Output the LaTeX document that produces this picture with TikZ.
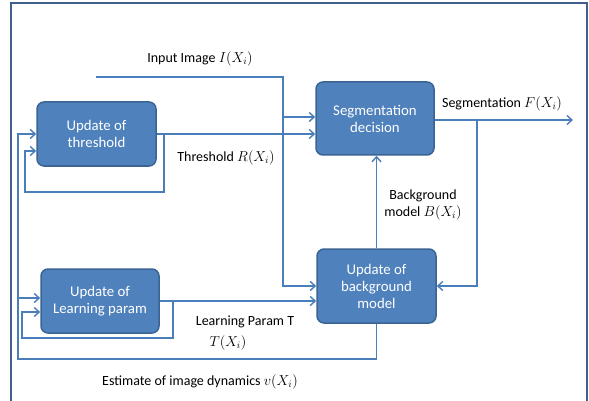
\documentclass[tikz,border=0pt]{standalone}
\usepackage{fontspec}
\setmainfont{Carlito}
\usetikzlibrary{arrows.meta}
\definecolor{boxfill}{HTML}{4F81BD}
\definecolor{boxline}{HTML}{3A6494}
\definecolor{wire}{HTML}{4A7EBB}
\definecolor{frame}{HTML}{41618A}
\tikzset{
  blk/.style={draw=boxline, line width=1.5pt, fill=boxfill, rounded corners=7pt,
    text=white, align=center, inner sep=0pt, font=\fontsize{14.8}{17}\selectfont},
  wl/.style={draw=wire, line width=1.6pt},
  wa/.style={wl, -{Straight Barb[length=5pt, width=9pt, line width=1.4pt]}},
  lbl/.style={font=\fontsize{14}{16.5}\selectfont, text=black, inner sep=0pt, align=center}
}
\begin{document}
\begin{tikzpicture}[x=1pt, y=-1pt]
\useasboundingbox (0,0) rectangle (589,401);
\draw[frame, line width=2.2pt] (11,401) -- (11,3) -- (587,3) -- (587,401);

\node[blk, minimum width=119pt, minimum height=64pt] (thr) at (96.5,134) {Update of\\threshold};
\node[blk, minimum width=118pt, minimum height=73pt] (seg) at (375,118.5) {Segmentation\\decision};
\node[blk, minimum width=118pt, minimum height=64pt] (lrn) at (100,301) {Update of\\Learning param};
\node[blk, minimum width=119pt, minimum height=74pt] (bg) at (376.5,286) {Update of\\background\\model};

% input image
\coordinate (in) at (96,77);
\coordinate (j1) at (283,117);
\coordinate (j1b) at (283,77);
\draw[wa] (in) -- (j1b) |- (bg.west);
\draw[wa] (j1) -- (seg.west |- j1);

% threshold
\draw[wa] (thr.east) -- (seg.west |- thr.east);
\coordinate (t1) at (164,134);
\coordinate (t2) at (25,192);
\coordinate (t3) at (25,151);
\draw[wa] (t1) |- (t2) -- (t3) -- (thr.west |- t3);

% learning param
\draw[wa] (lrn.east) -- (bg.west |- lrn.east);
\coordinate (l1) at (173,301);
\coordinate (l2) at (22,338);
\coordinate (l3) at (22,312);
\draw[wa] (l1) |- (l2) -- (l3) -- (lrn.west |- l3);

% estimate of image dynamics
\coordinate (e1) at (376.5,359);
\coordinate (e2) at (18,359);
\coordinate (e3) at (18,134);
\coordinate (e4) at (18,298);
\draw[wa] (bg.south) -- (e1) -- (e2) -- (e3) -- (thr.west);
\draw[wa] (e4) -- (lrn.west |- e4);

% segmentation output
\coordinate (out) at (573,120);
\coordinate (s1) at (477,120);
\draw[wa] (seg.east |- out) -- (out);
\draw[wa] (s1) |- (bg.east);

% background model
\draw[wa] (bg.north) -- (bg.north |- seg.south);

% labels
\node[lbl] (lin) at (200,59) {Input Image $I(X_i)$};
\node[lbl] (lthr) at (226,158) {Threshold $R(X_i)$};
\node[lbl] (lseg) at (502,104) {Segmentation $F(X_i)$};
\node[lbl] (lbg) at (423,205) {Background\\model $B(X_i)$};
\node[lbl] (llp) at (245,322) {Learning Param T};
\node[lbl] (llp2) at (228,343) {$T(X_i)$};
\node[lbl] (lest) at (200,382) {Estimate of image dynamics $v(X_i)$};
\end{tikzpicture}
\end{document}
